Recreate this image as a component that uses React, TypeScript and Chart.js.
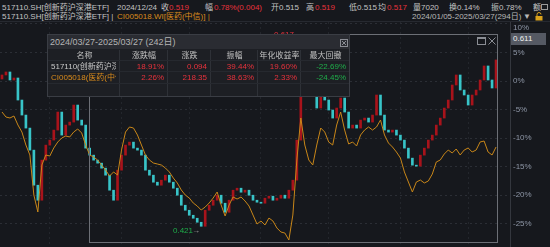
import React, { useEffect, useRef } from 'react';
import { Chart, registerables } from 'chart.js';

Chart.register(...registerables);

// ---------- data ----------
const BASE_PRICE = 0.569; // price at 0%
const FIRST_OPEN = 0.571;
const etfClose = [
  0.575, 0.578, 0.570, 0.572, 0.550, 0.535, 0.522, 0.500, 0.465, 0.450,
  0.490, 0.505, 0.510, 0.520, 0.538, 0.515, 0.525, 0.528, 0.545, 0.530,
  0.525, 0.502, 0.495, 0.490, 0.487, 0.482, 0.475, 0.460, 0.450, 0.480,
  0.495, 0.505, 0.508, 0.502, 0.500, 0.495, 0.480, 0.475, 0.468, 0.465,
  0.470, 0.475, 0.468, 0.462, 0.455, 0.445, 0.440, 0.435, 0.432, 0.428,
  0.424, 0.440, 0.445, 0.450, 0.455, 0.447, 0.438, 0.450, 0.460, 0.462,
  0.458, 0.460, 0.455, 0.450, 0.448, 0.447, 0.452, 0.454, 0.450, 0.452,
  0.455, 0.452, 0.460, 0.470, 0.510, 0.560, 0.605, 0.570, 0.555, 0.542,
  0.558, 0.550, 0.540, 0.532, 0.542, 0.552, 0.538, 0.522, 0.525, 0.522,
  0.530, 0.532, 0.528, 0.535, 0.555, 0.535, 0.520, 0.518, 0.520, 0.515,
  0.510, 0.502, 0.492, 0.485, 0.484, 0.495, 0.502, 0.510, 0.515, 0.525,
  0.532, 0.542, 0.550, 0.565, 0.575, 0.560, 0.555, 0.545, 0.555, 0.560,
  0.570, 0.584, 0.570, 0.562, 0.590,
];
const indexPct = [
  -5.44, -6.32, -6.49, -6.14, -7.72, -8.95, -11.23, -12.98, -20.0, -22.98,
  -14.74, -12.98, -13.16, -11.75, -10.7, -10.0, -9.65, -9.82, -8.95, -8.42,
  -9.12, -11.23, -12.98, -13.33, -13.86, -14.74, -15.61, -16.67, -15.96, -16.49,
  -12.11, -8.95, -8.07, -8.25, -9.47, -11.23, -12.98, -13.86, -14.39, -14.56,
  -14.74, -15.26, -15.96, -17.02, -17.89, -19.12, -20.0, -20.53, -21.4, -21.93,
  -22.63, -22.11, -21.4, -20.53, -19.47, -21.75, -23.68, -21.75, -20.35, -20.7,
  -20.35, -21.05, -21.93, -23.51, -25.09, -24.56, -25.26, -24.04, -24.56, -25.79,
  -26.49, -26.67, -27.89, -23.51, -13.86, -6.49, -11.23, -13.86, -14.74, -11.23,
  -8.25, -8.95, -10.7, -11.23, -7.72, -5.44, -8.6, -11.05, -10.7, -11.4,
  -9.47, -8.6, -8.07, -8.6, -8.07, -6.84, -9.47, -10.88, -11.58, -12.46,
  -13.51, -15.96, -17.72, -19.47, -17.72, -17.37, -17.89, -17.54, -16.32, -14.21,
  -13.86, -12.81, -12.11, -12.63, -11.93, -12.98, -12.11, -11.75, -12.46, -12.11,
  -10.7, -10.53, -12.46, -12.98, -11.58,
];
const tickPct = [-25, -20, -15, -10, -5, 0, 5, 10];
const vGridIdx = [12, 30, 47, 65, 82, 100, 117];
const SLOTS = 128;
const Y_MIN = -29.12;
const Y_MAX = 10.35;

const statHeaders = ['名称', '涨跌幅', '涨跌', '振幅', '年化收益率', '最大回撤'];
const statRows = [
  ['517110(创新药沪深港ETF)', '18.91%', '0.094', '39.44%', '19.60%', '-22.69%'],
  ['CI005018(医药(中信))', '2.26%', '218.35', '38.63%', '2.33%', '-24.45%'],
];
const statRowColors = [
  ['#c8c8c8', '#e8323c', '#e8323c', '#e8323c', '#e8323c', '#1fae4a'],
  ['#d98b1c', '#e8323c', '#e8323c', '#e8323c', '#e8323c', '#1fae4a'],
];

// ---------- style ----------
const BG = '#16181d';
const GRID = '#2b2e35';
const UP = '#a8131b';
const DOWN = '#38c4c8';
const FLAT = '#9a9ca0';
const ORANGE = '#c98719';
const TXT = '#c4c4c4';
const RED = '#e8323c';
const FONT = '"Liberation Sans", "Noto Sans CJK SC", sans-serif';

const pct = (p: number) => (p / BASE_PRICE - 1) * 100;

// y-axis labels drawn from the y scale; the topmost one is kept inside the plot
const axisLabelPlugin = {
  id: 'axisLabels',
  afterDraw(chart: any) {
    const { ctx, chartArea, scales } = chart;
    const y = scales.y;
    ctx.save();
    ctx.font = `8px ${FONT}`;
    ctx.fillStyle = '#8e96a6';
    ctx.textAlign = 'left';
    ctx.textBaseline = 'middle';
    tickPct.forEach((v) => {
      const py = Math.max(y.getPixelForValue(v), chartArea.top + 6);
      ctx.fillText(`${v}%`, chartArea.right + 3, py);
    });
    ctx.restore();
  },
};

function PriceChart() {
  const ref = useRef<HTMLCanvasElement | null>(null);
  useEffect(() => {
    if (!ref.current) return;
    const etfOpen = etfClose.map((c, i) => (i === 0 ? FIRST_OPEN : etfClose[i - 1]));
    const candleData = etfClose.map((c, i) => [pct(etfOpen[i]), pct(c)]);
    const candleColors = etfClose.map((c, i) =>
      c > etfOpen[i] ? UP : c < etfOpen[i] ? DOWN : FLAT
    );
    const labels = Array.from({ length: SLOTS }, (_, i) => `D${i + 1}`);
    const chart = new Chart(ref.current, {
      type: 'bar',
      data: {
        labels,
        datasets: [
          {
            type: 'line',
            data: indexPct,
            borderColor: ORANGE,
            borderWidth: 1,
            pointRadius: 0,
            tension: 0,
            order: 0,
          } as any,
          {
            type: 'bar',
            data: candleData as any,
            backgroundColor: candleColors,
            borderWidth: 0,
            barThickness: 2,
            minBarLength: 1,
            order: 1,
          } as any,
        ],
      },
      options: {
        animation: false,
        responsive: false,
        devicePixelRatio: 1,
        layout: { autoPadding: false, padding: { top: 22, left: 0, right: 0, bottom: 0 } },
        plugins: { legend: { display: false }, tooltip: { enabled: false }, title: { display: false } },
        scales: {
          x: {
            type: 'category',
            offset: true,
            display: true,
            ticks: { display: false },
            grid: { display: true, color: '#23262c', drawTicks: false, offset: false },
            border: { display: false, dash: [2, 3] },
            afterBuildTicks: (s: any) => {
              s.ticks = vGridIdx.map((v) => ({ value: v }));
            },
            afterFit: (s: any) => {
              s.height = 0;
            },
          },
          y: {
            position: 'right',
            min: Y_MIN,
            max: Y_MAX,
            ticks: { display: false },
            afterBuildTicks: (s: any) => {
              s.ticks = tickPct.map((v) => ({ value: v }));
            },
            afterFit: (s: any) => {
              s.width = 40;
            },
            grid: { color: GRID, drawTicks: false },
            border: { display: true, color: '#34373e', dash: [2, 3] },
          },
        },
      } as any,
      plugins: [axisLabelPlugin],
    });
    return () => chart.destroy();
  }, []);
  return (
    <canvas
      ref={ref}
      width={550}
      height={247}
      style={{ position: 'absolute', left: 0, top: 0, width: 550, height: 247 }}
    />
  );
}

const abs = (l: number, t: number, extra: React.CSSProperties = {}): React.CSSProperties => ({
  position: 'absolute',
  left: l,
  top: t,
  whiteSpace: 'nowrap',
  lineHeight: '10px',
  ...extra,
});

function Header() {
  const s = (l: number, t: number, c: string = TXT) => abs(l, t, { color: c, fontSize: 8 });
  return (
    <div style={{ position: 'absolute', left: 0, top: 0, width: 550, height: 22, fontFamily: FONT, background: BG }}>
      <div style={s(2, 3)}>517110.SH[创新药沪深港ETF]</div>
      <div style={s(117, 3)}>2024/12/24</div>
      <div style={s(161, 3)}>收</div>
      <div style={s(169, 3, RED)}>0.519</div>
      <div style={s(205, 3)}>幅</div>
      <div style={s(214, 3, RED)}>0.78%(0.004)</div>
      <div style={s(271, 3)}>开0.515</div>
      <div style={s(306, 3)}>高</div>
      <div style={s(315, 3, RED)}>0.519</div>
      <div style={s(349, 3)}>低0.515</div>
      <div style={s(378, 3)}>均</div>
      <div style={s(387, 3, RED)}>0.517</div>
      <div style={s(413, 3)}>量7020</div>
      <div style={s(449, 3)}>换0.14%</div>
      <div style={s(491, 3)}>振0.78%</div>
      <div style={s(533, 3)}>额</div>
      <div style={abs(541, 4, { width: 7, height: 6, border: '1px solid #9a9a9a', boxSizing: 'border-box' })} />
      <div style={s(2, 12)}>517110.SH[创新药沪深港ETF] |</div>
      <div style={s(117, 12, '#d98b1c')}>CI005018.WI[医药(中信)] |</div>
      <div style={s(412, 12, '#b8b8b8')}>2024/01/05-2025/03/27(294日)</div>
      <div style={s(523, 12, '#b8b8b8')}>▼</div>
      <svg style={abs(535, 12)} width="8" height="9" viewBox="0 0 8 9">
        <rect x="0.5" y="4" width="7" height="4.5" fill="#d9a21c" />
        <path d="M2 4 V2.5 A2 2 0 0 1 6 2.5" stroke="#d9a21c" fill="none" strokeWidth="1" />
      </svg>
      <div style={abs(0, 21, { width: 550, height: 1, background: '#262930' })} />
    </div>
  );
}

function StatBox() {
  const bounds = [1, 72, 120, 163, 210, 253, 302];
  const rowTops = [15, 26, 37, 49];
  const cell = (ci: number, top: number, text: string, color: string, center: boolean) => (
    <div
      key={`${ci}-${top}-${text}`}
      style={abs(bounds[ci], top, {
        width: bounds[ci + 1] - bounds[ci] - (center ? 0 : 4),
        height: 11,
        lineHeight: '11px',
        overflow: 'hidden',
        color,
        fontSize: 8,
        textAlign: center ? 'center' : ci === 0 ? 'left' : 'right',
        paddingLeft: ci === 0 && !center ? 2 : 0,
        boxSizing: 'border-box',
      })}
    >
      {text}
    </div>
  );
  return (
    <div
      style={abs(47, 34, {
        width: 303,
        height: 63,
        background: '#1d1f24',
        border: '1px solid #3a3d44',
        boxSizing: 'border-box',
        fontFamily: FONT,
      })}
    >
      <div style={abs(0, 0, { width: 301, height: 14, background: '#2a2c32' })} />
      <div style={abs(2, 2, { color: '#b4b4b4', fontSize: 9, lineHeight: '11px' })}>
        2024/03/27-2025/03/27 (242日)
      </div>
      <svg style={abs(292, 4)} width="8" height="8" viewBox="0 0 8 8">
        <rect x="0.5" y="0.5" width="7" height="7" fill="none" stroke="#8a8d94" />
        <path d="M2 2 L6 6 M6 2 L2 6" stroke="#8a8d94" />
      </svg>
      {bounds.slice(1, -1).map((b) => (
        <div key={b} style={abs(b - 1, 15, { width: 1, height: 46, background: '#2e3137' })} />
      ))}
      {rowTops.slice(1).map((t) => (
        <div key={t} style={abs(0, t - 1, { width: 301, height: 1, background: '#26292f' })} />
      ))}
      {statHeaders.map((h, ci) => cell(ci, rowTops[0], h, '#c0c0c0', true))}
      {statRows.map((row, ri) => row.map((v, ci) => cell(ci, rowTops[ri + 1], v, statRowColors[ri][ci], false)))}
    </div>
  );
}

export default function App() {
  return (
    <div
      style={{
        position: 'fixed',
        left: 0,
        top: 0,
        width: 550,
        height: 247,
        background: BG,
        overflow: 'hidden',
        fontFamily: FONT,
      }}
    >
      <PriceChart />
      <Header />
      {/* selection rectangle */}
      <div
        style={abs(89, 34, {
          width: 409,
          height: 209,
          border: '1px solid #6c6f76',
          boxSizing: 'border-box',
        })}
      />
      <div style={abs(477, 37, { width: 9, height: 8, border: '1px solid #8a8d94', borderTopWidth: 2, boxSizing: 'border-box' })} />
      <svg style={abs(488, 37)} width="8" height="8" viewBox="0 0 8 8">
        <path d="M0.5 0.5 L7.5 7.5 M7.5 0.5 L0.5 7.5" stroke="#8a8d94" strokeWidth="1" />
      </svg>
      {/* extreme markers */}
      <div style={abs(274, 30, { color: RED, fontSize: 8 })}>0.617</div>
      <div style={abs(296, 30, { color: '#a0a0a0', fontSize: 8 })}>→</div>
      <div style={abs(173, 226, { color: '#1fae4a', fontSize: 8 })}>0.421</div>
      <div style={abs(192, 226, { color: '#a0a0a0', fontSize: 8 })}>→</div>
      {/* current price tag */}
      <div
        style={abs(511, 33, {
          width: 35,
          height: 12,
          background: '#555963',
          color: '#f0f0f0',
          fontSize: 8,
          lineHeight: '12px',
          paddingLeft: 2,
          boxSizing: 'border-box',
        })}
      >
        0.611
      </div>
      <StatBox />
    </div>
  );
}
